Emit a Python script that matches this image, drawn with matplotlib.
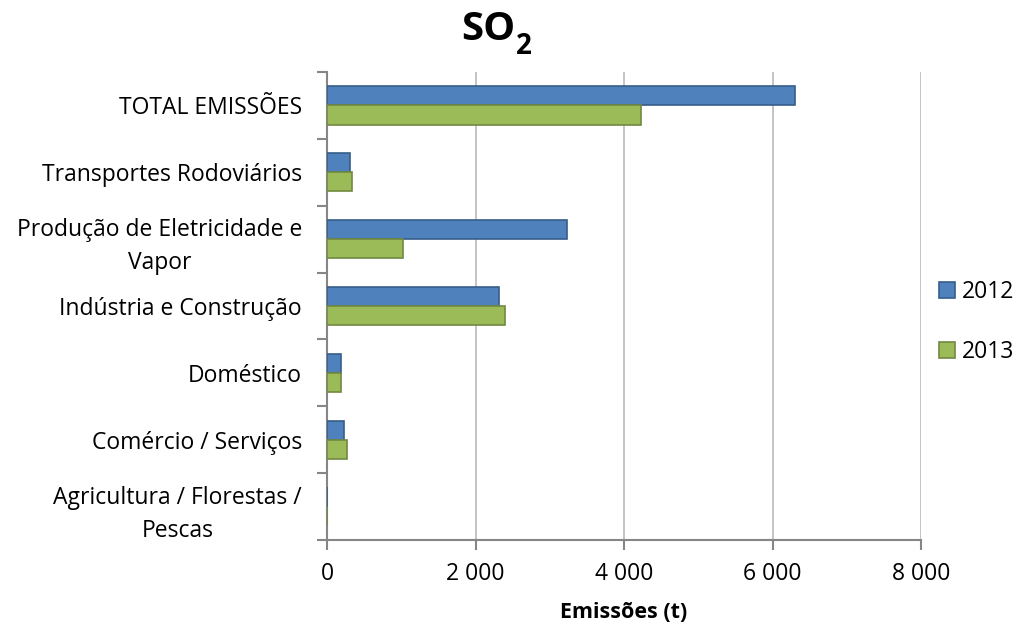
import matplotlib
matplotlib.use("Agg")
import matplotlib.pyplot as plt
import numpy as np

categories = ["TOTAL EMISSÕES", "Transportes Rodoviários",
              "Produção de Eletricidade e\nVapor", "Indústria e Construção",
              "Doméstico", "Comércio / Serviços", "Agricultura / Florestas /\nPescas"]
series_names = ["2012", "2013"]
values_2012 = [6300, 310, 3230, 2320, 190, 230, 6]
values_2013 = [4230, 340, 1030, 2395, 185, 265, 4]
x_ticks = [0, 2000, 4000, 6000, 8000]
x_tick_labels = ["0", "2 000", "4 000", "6 000", "8 000"]

plt.rcParams['font.family'] = ['Open Sans', 'DejaVu Sans']

fig = plt.figure(figsize=(10.16, 6.25), dpi=100)
ax = fig.add_axes([327/1016, 1-540/625, 594/1016, 468/625])

n = len(categories)
y = np.arange(n)
bh = 0.286
b1 = ax.barh(y - bh/2, values_2012, height=bh, color="#4F81BD", edgecolor="#385D8A",
             linewidth=1.2, label=series_names[0], zorder=3)
b2 = ax.barh(y + bh/2, values_2013, height=bh, color="#9BBB59", edgecolor="#71893F",
             linewidth=1.2, label=series_names[1], zorder=3)

ax.set_ylim(n - 0.5, -0.5)
ax.set_xlim(0, 8000)

ax.set_yticks(y)
ax.set_yticklabels(categories, fontsize=16.5, multialignment="center", linespacing=1.5)
ax.tick_params(axis="y", which="major", length=0, pad=18)
ax.set_yticks(np.arange(-0.5, n, 1.0), minor=True)
ax.tick_params(axis="y", which="minor", length=7, width=1.5, color="#868686", direction="out")

ax.set_xticks(x_ticks)
ax.set_xticklabels(x_tick_labels, fontsize=16.5)
ax.tick_params(axis="x", which="major", length=7, width=1.5, color="#868686", pad=9)

ax.grid(axis="x", color="#BFBFBF", linewidth=1.3, zorder=0)
ax.set_axisbelow(True)
for s in ["top", "right"]:
    ax.spines[s].set_visible(False)
for s in ["left", "bottom"]:
    ax.spines[s].set_color("#868686")
    ax.spines[s].set_linewidth(1.5)

ax.set_xlabel("Emissões (t)", fontsize=15.5, fontweight="bold", labelpad=11)

fig.text(515/1016, 1-30/625, "SO", fontsize=29, fontweight="bold", ha="right", va="center")
fig.text(516/1016, 1-46/625, "2", fontsize=20, fontweight="bold", ha="left", va="center")

fig.legend(handles=[b1, b2], labels=series_names, loc="center left",
           bbox_to_anchor=(918/1016, 1-322/625), frameon=False, fontsize=16.5,
           handlelength=0.7, handleheight=0.7, handletextpad=0.3, labelspacing=1.6)

fig.savefig("out.png", dpi=100)
